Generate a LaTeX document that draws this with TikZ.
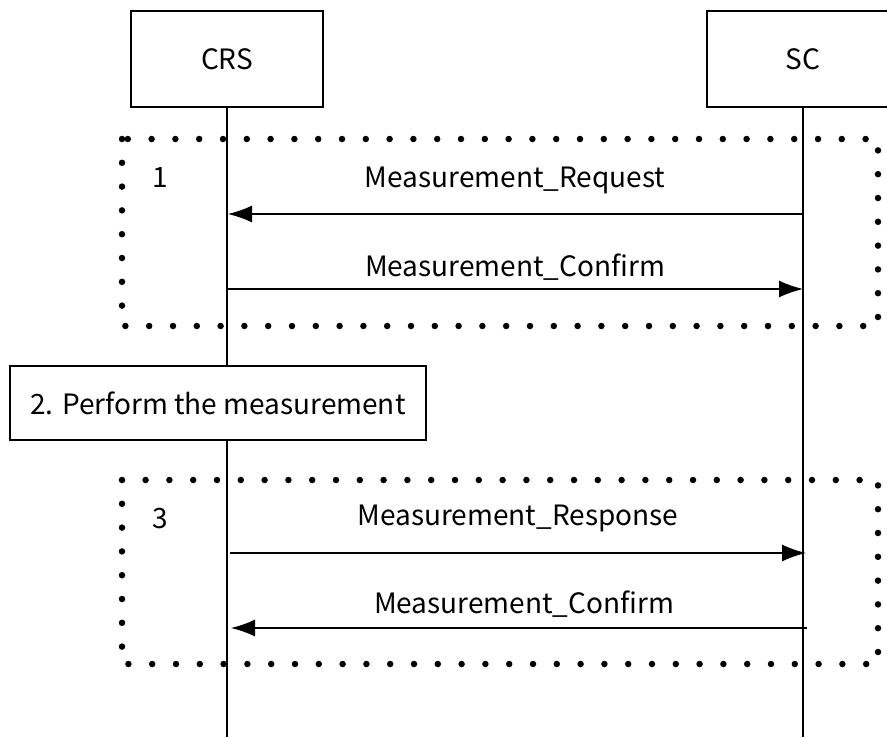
\documentclass[tikz,border=0pt]{standalone}
\usepackage{fontspec}
\setmainfont{Noto Sans CJK JP}
\usetikzlibrary{arrows.meta}
\begin{document}
\begin{tikzpicture}[x=1pt,y=-1pt,
  every node/.style={font=\fontsize{28}{32}\selectfont},
  actor/.style={draw,line width=1.3pt,minimum width=192pt,minimum height=96pt,inner sep=0pt},
  life/.style={line width=1.3pt},
  msg/.style={line width=1.3pt,-{Latex[length=24pt,width=17pt]}},
  group/.style={line width=6.5pt,line cap=round,dash pattern=on 0pt off 23.8pt},
  lbl/.style={inner sep=0pt,anchor=center}]
\useasboundingbox (0,0) rectangle (887,737);
% dotted groups
\draw[group] (122,139) rectangle (878,326);
\draw[group] (122,480) rectangle (878,664);
% actors
\node[actor] (crs) at (227,59) {CRS};
\node[actor] (sc) at (803,59) {SC};
\coordinate (crsend) at (227,737);
\coordinate (scend) at (803,737);
\draw[life] (crs.south) -- (crsend);
\draw[life] (sc.south) -- (scend);
% step 2 box
\node[draw,line width=1.3pt,fill=white,minimum width=416pt,minimum height=74pt,inner sep=0pt] (perf) at (218,403) {2. Perform the measurement};
% labels
\node[lbl] (g1) at (160,178) {1};
\node[lbl] (g3) at (160,519) {3};
% messages
\coordinate (a1s) at (803,214); \coordinate (a1e) at (228,214);
\coordinate (a2s) at (228,289); \coordinate (a2e) at (803,289);
\coordinate (a3s) at (230,553); \coordinate (a3e) at (806,553);
\coordinate (a4s) at (807,628); \coordinate (a4e) at (231,628);
\draw[msg] (a1s) -- (a1e);
\draw[msg] (a2s) -- (a2e);
\draw[msg] (a3s) -- (a3e);
\draw[msg] (a4s) -- (a4e);
\node[lbl] (l1) at (515,180) {Measurement\_Request};
\node[lbl] (l2) at (515,267) {Measurement\_Confirm};
\node[lbl] (l3) at (518,518) {Measurement\_Response};
\node[lbl] (l4) at (524,604) {Measurement\_Confirm};
\end{tikzpicture}
\end{document}
